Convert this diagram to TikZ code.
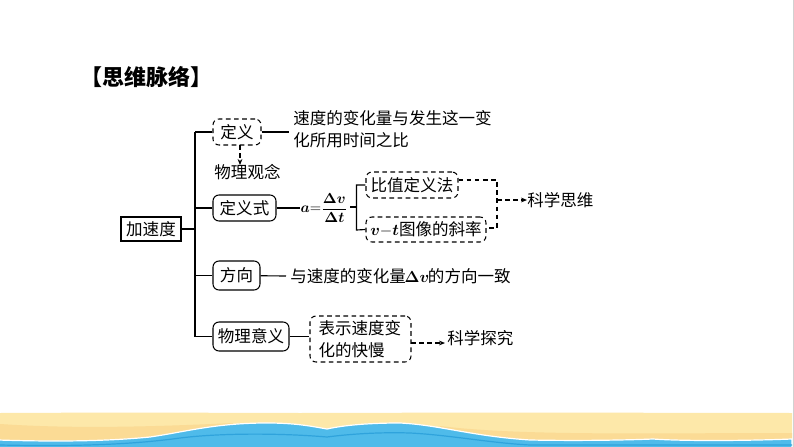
\documentclass[tikz,border=0pt]{standalone}
\usepackage{fontspec}
\usepackage{bm}
\usetikzlibrary{arrows.meta}
\setmainfont{Noto Sans CJK SC}
\definecolor{sandA}{HTML}{FDE8A9}
\definecolor{sandB}{HTML}{FBDB95}
\definecolor{seaA}{HTML}{4FBBEA}
\definecolor{seaB}{HTML}{2FA3DC}
\tikzset{
  x=0.75pt,y=-0.75pt,
  sz/.style 2 args={minimum width=#1*0.75pt,minimum height=#2*0.75pt,inner sep=0pt},
  body/.style={font=\fontsize{12.4pt}{16.5pt}\selectfont,text=black},
  solidbox/.style={body,draw=black,line width=0.8pt,rounded corners=4.5pt},
  dashbox/.style={body,draw=black,line width=0.8pt,rounded corners=4.5pt,dash pattern=on 3.5pt off 2.6pt},
  plainbox/.style={body,draw=black,line width=0.8pt},
  txt/.style={body,inner sep=0pt,align=left},
  link/.style={draw=black,line width=0.85pt},
  dlink/.style={draw=black,line width=0.8pt,dash pattern=on 3.5pt off 2.6pt},
  darrow/.style={dlink,-{Stealth[length=4.5pt,width=3.6pt]}},
}
\begin{document}
\begin{tikzpicture}
\useasboundingbox (0,0) rectangle (794,447);
\fill[white] (0,0) rectangle (794,447);
\draw[black!18,line width=0.7pt] (793.5,0) -- (793.5,447);
% beach
\fill[sandA] (0,413) -- (120,412.5) -- (300,413) -- (500,412.5) -- (792,413) -- (792,447) -- (0,447) -- cycle;
\fill[sandB] (0,424) .. controls (60,428) and (130,428) .. (233,423) -- (233,447) -- (0,447) -- cycle;
\fill[sandB] (440,426) .. controls (520,436) and (650,433) .. (792,433) -- (792,447) -- (440,447) -- cycle;
\path[fill=seaA,draw=white,line width=0.9pt]
  (-2,440) .. controls (60,442) and (110,441) .. (150,437)
  .. controls (185,432) and (215,423) .. (267,423)
  .. controls (295,423) and (310,426) .. (327,429)
  .. controls (345,425) and (370,423) .. (400,423)
  .. controls (440,425) and (470,436) .. (530,440)
  .. controls (580,441) and (630,440) .. (653,439)
  .. controls (680,441) and (740,441) .. (792,439)
  -- (792,449) -- (-2,449) -- cycle;
\draw[seaB,line width=0.9pt] (0,445) .. controls (70,446.5) and (130,445) .. (180,438)
  .. controls (220,433) and (280,433) .. (327,437)
  .. controls (350,434) and (380,432) .. (410,433)
  .. controls (450,435) and (490,443) .. (530,445) -- (792,445);
% title
\node[inner sep=0pt,anchor=west,font=\fontsize{16.5pt}{20pt}\selectfont\bfseries] (title) at (80,77) {【思维脉络】};
% main nodes
\node[plainbox,sz={60}{24}] (root) at (151,229) {加速度};
\node[dashbox,sz={48}{26}] (def) at (237,132) {定义};
\node[solidbox,sz={63}{26}] (formula) at (244.5,208) {定义式};
\node[solidbox,sz={47}{29}] (dir) at (236.5,275.5) {方向};
\node[solidbox,sz={76}{29}] (mean) at (251,336.5) {物理意义};
% trunk
\coordinate (tt) at (195,132);
\coordinate (tf) at (195,208);
\coordinate (tr) at (195,229);
\coordinate (td) at (195,275.5);
\coordinate (tb) at (195,336.5);
\draw[link] (tt) -- (tb);
\draw[link] (root) -- (tr);
\draw[link] (def) -- (tt);
\draw[link] (formula) -- (tf);
\draw[link] (dir) -- (td);
\draw[link] (mean) -- (tb);
% definition
\node[txt,anchor=north west] (deftext) at (293,110.5) {速度的变化量与发生这一变\\化所用时间之比};
\coordinate (defend) at (289,132);
\draw[link] (def) -- (defend);
\node[txt] (idea) at (247.5,172) {物理观念};
\coordinate (ideaA) at (240,145);
\coordinate (ideaB) at (240,165);
\draw[darrow] (ideaA) -- (ideaB);
% formula
\node[inner sep=0pt,anchor=center,font=\fontsize{10.5pt}{13pt}\selectfont] (eq) at (324,208) {$\bm{a}{=}\displaystyle\frac{\bm{\Delta v}}{\bm{\Delta t}}$};
\coordinate (eqL) at (300,208);
\draw[link] (formula) -- (eqL);
\node[dashbox,sz={92}{26}] (ratio) at (412,185) {比值定义法};
\node[dashbox,sz={120}{25}] (slope) at (426,229.5) {$\bm{v}\mathrm{-}\bm{t}$图像的斜率};
\coordinate (brS) at (350,207);
\coordinate (brM) at (357,207);
\draw[link] (brS) -- (brM);
\draw[link] (ratio.west) -- ++(-9,0) -- ++(0,45) -- (ratio.west |- slope.west);
\coordinate (dashR) at (497,180);
\coordinate (dashS) at (497,228);
\draw[dlink] (ratio.east |- dashR) -- (dashR) -- (dashS) -- (slope.east |- dashS);
\node[txt,anchor=west] (think) at (527,200) {科学思维};
\coordinate (thinkS) at (497,200);
\draw[darrow] (thinkS) -- (think.west);
% direction
\node[txt,anchor=west] (dirtext) at (290,276) {与速度的变化量\kern-1pt$\bm{\Delta v}$\kern-1pt 的方向一致};
\coordinate (dirend) at (286,276);
\draw[link] (dir) -- (dirend);
% meaning
\node[dashbox,sz={101}{46},align=left,text width=84*0.75pt] (show) at (360.5,339) {表示速度变\\化的快慢};
\draw[link] (mean) -- (show.west |- mean);
\node[txt,anchor=west] (inquiry) at (447,338) {科学探究};
\coordinate (showS) at (411,343);
\coordinate (showE) at (445,343);
\draw[darrow] (showS) -- (showE);
\end{tikzpicture}
\end{document}
